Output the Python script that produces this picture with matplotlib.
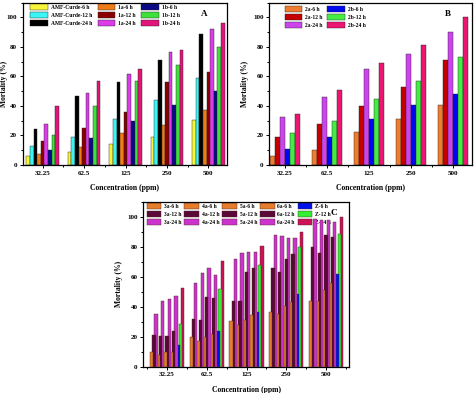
import numpy as np
import matplotlib
matplotlib.use("Agg")
import matplotlib.pyplot as plt
from matplotlib.ticker import MultipleLocator

plt.rcParams['font.family'] = ['Liberation Serif', 'DejaVu Serif']
plt.rcParams['font.weight'] = 'bold'

# Data
conc = ['32.25', '62.5', '125', '250', '500']

# panel A
labels_a = ['AMF-Curde-6 h', 'AMF-Curde-12 h', 'AMF-Curde-24 h',
            '1a-6 h', '1a-12 h', '1a-24 h',
            '1b-6 h', '1b-12 h', '1b-24 h']
amf_6 = [6, 9, 14.5, 19, 30.5]
amf_12 = [13, 19, 31.5, 44, 59]
amf_24 = [24.5, 47, 56, 71, 89]
a1_6 = [7.5, 12, 22, 27, 37.5]
a1_12 = [16, 25, 36, 56.5, 63]
a1_24 = [27.5, 48.5, 62, 76.5, 92]
b1_6 = [10.5, 18, 30, 41, 50]
b1_12 = [20, 40, 57, 68, 80]
b1_24 = [40, 57, 65, 78, 96.5]
colors_a = ['#f7f53a', '#3cf4f4', '#000000', '#f07c18', '#8a0000',
            '#dc3ce8', '#0a0a88', '#3ee03a', '#e2147a']

# panel B
labels_b = ['2a-6 h', '2a-12 h', '2a-24 h', '2b-6 h', '2b-12 h', '2b-24 h']
a2_6 = [6, 10.5, 22.5, 31, 41]
a2_12 = [19, 27.5, 40, 53, 71]
a2_24 = [32.5, 46, 65, 75.5, 90]
b2_6 = [11, 19, 31, 41, 48]
b2_12 = [22, 29.5, 45, 57, 73]
b2_24 = [34.5, 51, 69, 81, 100]
colors_b = ['#f07c30', '#c40000', '#cc44ee', '#0008ee', '#44ec44', '#ee1472']

# panel C
labels_c = ['3a-6 h', '3a-12 h', '3a-24 h', '4a-6 h', '4a-12 h', '4a-24 h',
            '5a-6 h', '5a-12 h', '5a-24 h', '6a-6 h', '6a-12 h', '6a-24 h',
            'Z-6 h', 'Z-12 h', 'Z-24 h']
a3_6 = [10, 20, 30.7, 36.7, 44]
a3_12 = [21.3, 31.6, 44, 66, 80]
a3_24 = [35.3, 55.7, 71.5, 87.7, 98.4]
a4_6 = [7.5, 17, 27.8, 35.2, 43.9]
a4_12 = [20.3, 31, 44, 63.3, 76]
a4_24 = [43.7, 62.6, 75.5, 86.9, 98]
a5_6 = [9.8, 20, 31, 40.5, 51]
a5_12 = [20.3, 46.3, 63, 72, 87.5]
a5_24 = [45, 66, 76.6, 86, 98]
a6_6 = [10, 21.6, 34.3, 43.4, 56]
a6_12 = [23.5, 46, 65.5, 75, 86.4]
a6_24 = [47.3, 61, 76.8, 85.7, 96.7]
z_6 = [14.3, 24, 36.7, 48.5, 61.7]
z_12 = [28.3, 52, 68, 79.5, 88.2]
z_24 = [52.8, 70.4, 80.6, 90, 100]
colors_c = ['#e57d2c', '#5a0838', '#cc33cc'] * 4 + ['#0011ee', '#33ee33', '#cc1158']

W, H = 474, 393
fig = plt.figure(figsize=(W / 100, H / 100), dpi=100)


def px_axes(left, top, right, bottom):
    return fig.add_axes([left / W, 1 - bottom / H, (right - left) / W, (bottom - top) / H])


def style_axes(ax, xlim, ylab_x):
    ax.set_xlim(*xlim)
    ax.set_ylim(0, 110)
    ax.set_xticks(range(len(conc)))
    ax.set_xticklabels(conc)
    ax.xaxis.set_minor_locator(MultipleLocator(1, offset=0.5))
    ax.yaxis.set_major_locator(MultipleLocator(20))
    ax.yaxis.set_minor_locator(MultipleLocator(10))
    ax.tick_params(which='both', direction='out', top=False, right=False,
                   labelsize=5, width=0.7, pad=1.5)
    ax.tick_params(which='major', length=2.5)
    ax.tick_params(which='minor', length=1.5)
    for lab in ax.get_xticklabels() + ax.get_yticklabels():
        lab.set_fontweight('bold')
    for s in ax.spines.values():
        s.set_linewidth(0.9)
    ax.set_xlabel('Concentration (ppm)', fontsize=5.5, fontweight='bold', labelpad=6)
    ax.set_ylabel('Mortality (%)', fontsize=5.5, fontweight='bold')
    ax.yaxis.set_label_coords(ylab_x, 0.5)


x = np.arange(len(conc))

# ---- A ----
axA = px_axes(22.7, 2.7, 226.7, 165)
series_a = [amf_6, amf_12, amf_24, a1_6, a1_12, a1_24, b1_6, b1_12, b1_24]
wa = 0.78 / len(series_a)
for i, (vals, c, lab) in enumerate(zip(series_a, colors_a, labels_a)):
    axA.bar(x - 0.39 + wa * (i + 0.5), vals, wa, color=c, edgecolor='#222222',
            linewidth=0.3, label=lab, zorder=2)
style_axes(axA, (-0.48, 4.44), -0.072)
axA.legend(ncol=3, loc='upper left', bbox_to_anchor=(0.02, 1.01), frameon=False,
           fontsize=4, handlelength=3.2, handleheight=1.3, columnspacing=1.0,
           labelspacing=0.35, handletextpad=0.5, borderaxespad=0.2)
axA.text(0.89, 0.93, 'A', transform=axA.transAxes, fontsize=6.5, fontweight='bold',
         ha='center', va='center')

# ---- B ----
axB = px_axes(269, 2.7, 472, 165)
series_b = [a2_6, a2_12, a2_24, b2_6, b2_12, b2_24]
wb = 0.7 / len(series_b)
for i, (vals, c, lab) in enumerate(zip(series_b, colors_b, labels_b)):
    axB.bar(x - 0.35 + wb * (i + 0.5), vals, wb, color=c, edgecolor='#222222',
            linewidth=0.3, label=lab, zorder=2)
style_axes(axB, (-0.38, 4.45), -0.1)
axB.legend(ncol=2, loc='upper left', bbox_to_anchor=(0.06, 1.0), frameon=False,
           fontsize=4, handlelength=3.2, handleheight=1.3, columnspacing=0.8,
           labelspacing=0.35, handletextpad=0.5, borderaxespad=0.2)
axB.text(0.88, 0.93, 'B', transform=axB.transAxes, fontsize=6.5, fontweight='bold',
         ha='center', va='center')

# ---- C ----
axC = px_axes(143.3, 201.7, 349, 366.7)
series_c = [a3_6, a3_12, a3_24, a4_6, a4_12, a4_24, a5_6, a5_12, a5_24,
            a6_6, a6_12, a6_24, z_6, z_12, z_24]
n = len(series_c)
step = 0.86 / (n - 1 + 1.5)
wc = 1.5 * step
for i, (vals, c, lab) in enumerate(zip(series_c, colors_c, labels_c)):
    axC.bar(x - 0.43 + wc / 2 + step * i, vals, wc, color=c, edgecolor='#4a2a20',
            linewidth=0.3, label=lab, zorder=20 - i)
style_axes(axC, (-0.6, 4.58), -0.097)
legC = axC.legend(ncol=5, loc='upper left', bbox_to_anchor=(0.0, 1.01), frameon=False,
                  fontsize=4, handlelength=2.6, handleheight=1.3, columnspacing=0.55,
                  labelspacing=0.3, handletextpad=0.5, borderaxespad=0.2)
legC.set_zorder(1)
axC.text(0.925, 0.93, 'C', transform=axC.transAxes, fontsize=6.5, fontweight='bold',
         ha='center', va='center')

fig.savefig('out.png', dpi=100)
